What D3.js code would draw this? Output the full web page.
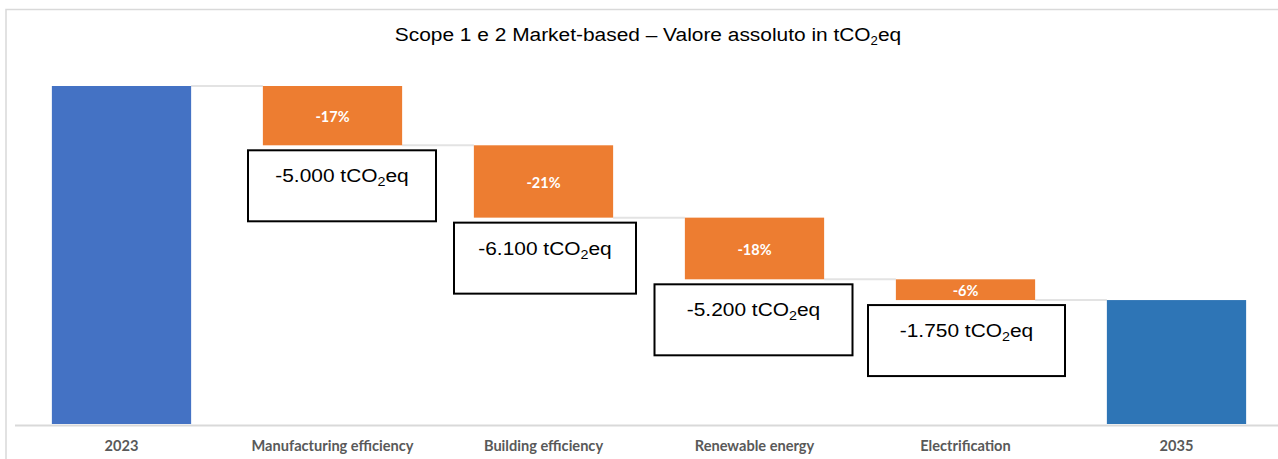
<!DOCTYPE html>
<html>
<head>
<meta charset="utf-8">
<script src="https://cdn.jsdelivr.net/npm/d3@7"></script>
<style>
  body { margin: 0; background: #fff; }
  svg { display: block; }
</style>
</head>
<body>
<svg width="1278" height="459"></svg>
<script>
// data
const categories = ["2023", "Manufacturing efficiency", "Building efficiency", "Renewable energy", "Electrification", "2035"];
const startValue = 28500;
const deltas = [-5000, -6100, -5200, -1750];
const endValue = 10450;
const pctLabels = ["-17%", "-21%", "-18%", "-6%"];
const boxLabels = ["-5.000", "-6.100", "-5.200", "-1.750"];

// callout box layout (they are hand-placed in the original)
const boxWidths = [188, 182, 198, 197];
const boxShift = [9.5, 1.5, -1, 1];

const svg = d3.select("svg");
const width = 1278;

// build waterfall steps
const steps = [];
let running = startValue;
steps.push({ cat: categories[0], y0: 0, y1: startValue, kind: "start" });
deltas.forEach((d, i) => {
    steps.push({ cat: categories[i + 1], y0: running + d, y1: running, kind: "delta", pct: pctLabels[i], box: boxLabels[i], idx: i });
    running += d;
});
steps.push({ cat: categories[5], y0: 0, y1: endValue, kind: "end" });

const x = d3.scaleBand()
    .domain(categories)
    .range([16, 1282])
    .paddingInner(0.34)
    .paddingOuter(0.17);

const y = d3.scaleLinear()
    .domain([0, startValue])
    .range([424, 86]);

// outer frame
svg.append("rect")
    .attr("x", 6)
    .attr("y", 9.5)
    .attr("width", 1300)
    .attr("height", 470)
    .attr("fill", "none")
    .attr("stroke", "#d9d9d9")
    .attr("stroke-width", 1.5);

// title (slightly wide, like the original)
const title = svg.append("text")
    .attr("transform", "translate(648,41) scale(1.1,1)")
    .attr("text-anchor", "middle")
    .attr("font-family", "'Liberation Sans', Arial, sans-serif")
    .attr("font-size", 19)
    .attr("fill", "#000");
title.append("tspan").text("Scope 1 e 2 Market-based \u2013 Valore assoluto in tCO");
title.append("tspan").attr("font-size", 12).attr("dy", 4).text("2");
title.append("tspan").attr("dy", -4).text("eq");

// connector lines
for (let i = 0; i < steps.length - 1; i++) {
    const level = steps[i].kind === "delta" ? steps[i].y0 : steps[i].y1;
    svg.append("line")
        .attr("x1", x(steps[i].cat) + x.bandwidth())
        .attr("x2", x(steps[i + 1].cat))
        .attr("y1", y(level))
        .attr("y2", y(level))
        .attr("stroke", "#e3e3e3")
        .attr("stroke-width", 2);
}

// axis line
svg.append("line")
    .attr("x1", 15)
    .attr("x2", width)
    .attr("y1", 425.5)
    .attr("y2", 425.5)
    .attr("stroke", "#d9d9d9")
    .attr("stroke-width", 2);

const colors = { start: "#4472C4", delta: "#ED7D31", end: "#2E75B6" };

svg.selectAll("rect.bar")
    .data(steps)
    .join("rect")
    .attr("class", "bar")
    .attr("x", d => x(d.cat))
    .attr("y", d => y(d.y1))
    .attr("width", x.bandwidth())
    .attr("height", d => y(d.y0) - y(d.y1))
    .attr("fill", d => colors[d.kind]);

const deltaSteps = steps.filter(d => d.kind === "delta");

// percentage labels inside bars
svg.selectAll("text.pct")
    .data(deltaSteps)
    .join("text")
    .attr("class", "pct")
    .attr("x", d => x(d.cat) + x.bandwidth() / 2)
    .attr("y", d => (y(d.y0) + y(d.y1)) / 2 + 1)
    .attr("text-anchor", "middle")
    .attr("dominant-baseline", "central")
    .attr("font-family", "Lato, sans-serif")
    .attr("font-weight", "bold")
    .attr("font-size", 14.5)
    .attr("fill", "#fff")
    .text(d => d.pct);

// annotation boxes
const boxH = 71;
deltaSteps.forEach(d => {
    const cx = x(d.cat) + x.bandwidth() / 2 + boxShift[d.idx];
    const w = boxWidths[d.idx];
    const top = y(d.y0) + 5;
    svg.append("rect")
        .attr("x", cx - w / 2)
        .attr("y", top)
        .attr("width", w)
        .attr("height", boxH)
        .attr("fill", "#fff")
        .attr("stroke", "#000")
        .attr("stroke-width", 2);
    const t = svg.append("text")
        .attr("transform", `translate(${cx},${top + 32}) scale(1.1,1)`)
        .attr("text-anchor", "middle")
        .attr("font-family", "'Liberation Sans', Arial, sans-serif")
        .attr("font-size", 19)
        .attr("fill", "#000");
    t.append("tspan").text(d.box + " tCO");
    t.append("tspan").attr("font-size", 13).attr("dy", 4).text("2");
    t.append("tspan").attr("dy", -4).text("eq");
});

// category labels
svg.selectAll("text.cat")
    .data(categories)
    .join("text")
    .attr("class", "cat")
    .attr("x", d => x(d) + x.bandwidth() / 2)
    .attr("y", 451)
    .attr("text-anchor", "middle")
    .attr("font-family", "Lato, sans-serif")
    .attr("font-weight", "bold")
    .attr("font-size", 14.6)
    .attr("fill", "#595959")
    .text(d => d);
</script>
</body>
</html>
